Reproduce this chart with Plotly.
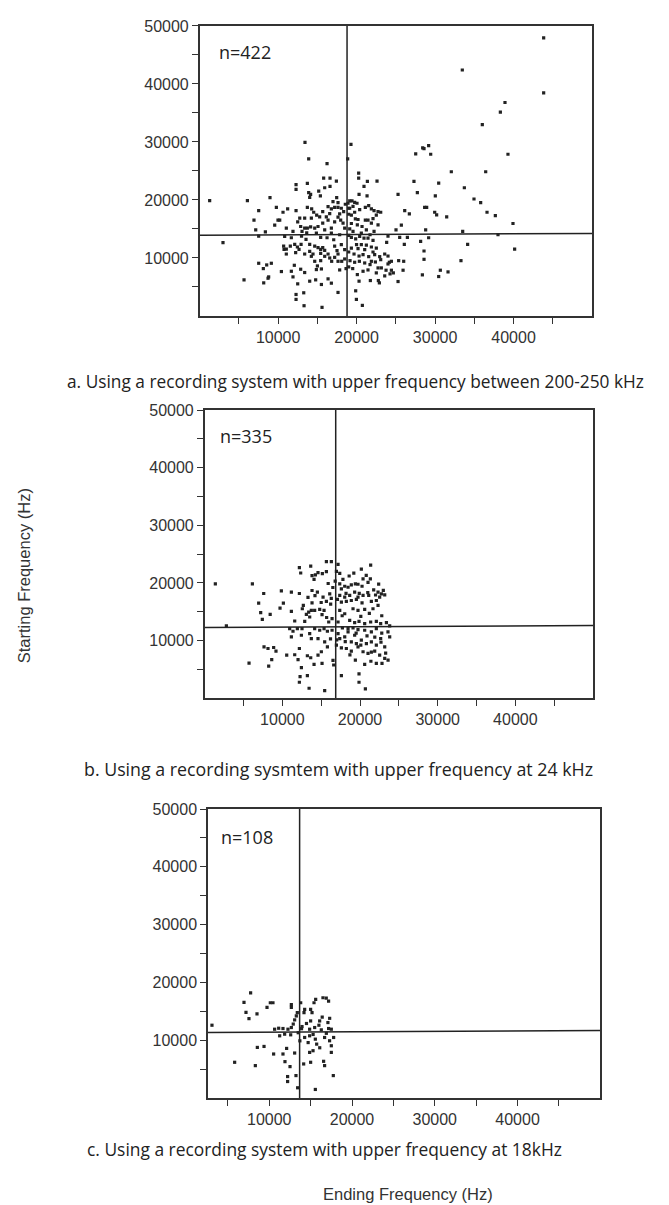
import plotly.graph_objects as go

# ---------------- data (Hz) ----------------
a_end = [43840,43840,33470,36020,38910,38320,39290,36450,32070,33730,34960,35810,36620,37680,39930,38020,33520,34150,40140,33300,
         31650,30670,30460,30460,30030,29950,30200,31480,27530,28420,28590,29180,29440,27310,27740,25280,26130,26720,28670,28930,
         25700,25020,25490,26470,26080,28800,29180,28160,28590,28590,28380,26000,25360,25920,25280,24000,23830,24000,24170,24430,
         24680,24260,23750,23580,22900,22770,22600,21370,20940,20260,20260,20310,21330,19280,18860,19880,19970,20730,17630,20310,
         21750,1270,2970,5650,6080,7520,6920,7140,7520,8370,7520,13420,13890,16230,15800,16610,17420,16610,15930,15170,
         13720,12280,12280,13890,14140,14020,15380,17460,17630,8960,9770,10620,11210,12280,13720,14270,14530,15290,14910,9980,
         10200,9560,11040,12490,12870,13040,13380,13720,14140,13640,15080,16360,16140,16570,16780,17200,17630,18050,18350,17630,
         17970,17200,15930,15420,16230,17080,17840,11680,12980,10700,10750,11040,11550,12110,12450,12230,12660,14020,14660,15080,
         15420,15680,15930,15420,16360,17200,17500,18050,16820,17200,17630,18100,18480,18650,17840,13380,14230,14440,15420,15000,
         14870,15510,12870,13380,14020,14780,15510,16360,16780,11680,11890,12060,12490,13260,12280,12280,13300,15590,10410,11040,
         8110,8540,9130,8790,8160,8710,18900,19120,19410,19750,20050,19540,19120,18990,19330,19750,20390,21110,21540,21880,
         22220,22730,23070,22510,22090,21450,21110,20180,20090,20690,21240,22220,22730,19120,18990,19330,19880,20390,20940,21450,
         22090,20600,21240,21880,22510,19990,19330,18990,19670,20310,20820,21540,22300,22940,23580,19160,19750,20350,21030,21710,
         22390,23070,18990,19500,20820,21450,22510,20090,14660,14870,16780,16780,18480,18270,15680,14230,13380,16990,17840,19840,
         21880,19540,20600,21710,18480,17630,16570,15930,14660,14020,12920,13550,20180,21030,22090,22730,21880,23150,24000,24430,
         19330,18990,18560,16360,15680,12750,11890,10830]
a_start = [47940,38460,42400,32970,36800,35140,27880,24860,24860,22110,20170,19540,17880,17310,15940,14000,14570,12340,11540,9540,
           7600,7890,6800,22910,20690,17880,17430,17080,27940,28970,28860,29370,27880,23200,21260,20970,18170,17600,18740,18740,
           15660,14860,13540,13540,12340,14860,13490,12860,11200,9770,7090,9430,9540,7890,5940,13770,12690,10340,9260,7890,
           7430,7260,7890,6910,5710,6110,23260,23200,22340,24630,23770,20970,20690,29600,27080,4340,2860,1830,4060,6000,
           6110,19890,12630,6230,19890,18170,16510,14860,13770,14510,9090,29940,27080,26280,23770,23770,23260,22340,22110,21540,
           22860,22630,21830,21260,20970,20460,20690,20400,19540,20400,18740,17880,18460,18170,18740,18460,17880,17080,17370,16510,
           16510,15660,15140,16230,15430,14570,15140,15140,15370,14340,15430,16510,17080,17660,18460,18740,18740,18570,18000,17030,
           16510,16230,14860,13540,13490,13140,14000,13490,13770,12060,11490,11540,12060,12340,11890,10910,11490,12340,12060,11770,
           11490,11770,11310,10800,10690,12060,11260,12290,9430,10110,10690,9430,9830,8170,7940,10690,10290,10690,9540,8630,
           8000,8110,8060,7490,6000,6230,5430,6400,5660,7710,6740,8740,5540,4000,3710,2860,1770,1490,7660,10690,
           8170,8800,9090,6740,5710,6510,19430,19830,19830,19600,19430,18910,18570,17540,17370,17880,18340,18740,19030,18460,
           18170,18000,17880,17370,16800,16510,16510,16630,15710,15430,14860,14570,15710,15030,13890,13540,13310,13710,13430,13430,
           13030,12290,12230,11890,11710,12290,11710,11030,10690,10340,10570,10230,10570,10230,10690,9540,9260,9430,9140,8860,
           9310,9710,8460,8170,7710,7940,7430,7140,15140,14290,14290,15140,15140,16000,16000,16860,16860,19710,17600,16740,
           16000,14570,14290,14000,11430,9430,10000,10290,9430,11140,12340,13200,11600,11430,11030,8290,9430,8290,8970,9430,
           15940,18570,19260,18860,18000,16860,14570,13710]

b_end = [1370,2790,6140,5710,7600,6950,7210,7420,8430,7640,8150,8880,8630,8240,9180,9870,10130,9700,11160,12190,
         11160,11590,10560,11590,12190,12020,12450,12190,12360,13650,13820,14250,14080,14590,15150,15670,16310,17170,17390,16960,
         15670,13820,14510,15240,15670,16100,12700,12570,13090,13390,13730,14160,13520,13820,14810,15370,15110,16220,15970,12880,
         10940,11370,11930,12530,13520,14160,14810,15370,15800,16400,11160,12450,13730,14590,15450,15800,15020,14590,14080,15110,
         16520,16610,13220,13650,12280,12190,13220,13440,15450,17600,19870,19870,20690,17390,17600,18030,18460,18880,19400,19740,
         20260,20390,21030,21330,21370,20170,21760,22320,22750,23180,22530,22100,21460,21120,20390,19740,19310,18670,18030,17390,
         17090,17600,18240,18880,19530,20260,19100,19740,20600,21670,22320,17390,18030,18670,19310,19870,20600,21370,22100,22660,
         22100,21460,20600,19740,19100,18460,17730,17170,17390,18030,18880,19530,20170,20820,21460,22100,22660,23180,23820,23820,
         16960,17600,18240,18880,19740,20390,21030,21890,22530,23180,23610,22830,22100,20600,21460,18460,19310,17170,16500,16800,
         15900,17800,18600,19200,20800,22400,23000,22000,21000,19900,18200,16300,15000,14200,13300,15700,16400,17700,20100,21200,
         22800,23400,23600,22800,21900,20900,19500,18100,17000,16200,18700,19400,20100,22700,23300,21400]
b_start = [19830,12530,19830,6090,18160,16490,14830,13680,14540,8910,8620,8790,6670,5570,8160,18620,16490,15630,18390,18160,
           15060,13390,7470,7530,8620,6670,5290,22640,21720,22930,21260,21380,20630,21780,21610,23680,23680,23220,21670,22010,
           21950,18680,18390,17530,16780,18100,16090,15520,14540,14940,15230,15230,14080,16550,15400,15230,14480,16320,13220,13330,
           12070,11610,12070,12070,11210,12070,11780,12070,11610,11780,10630,10920,10340,10340,9770,8910,8050,7470,5860,6030,
           6550,5750,7360,7010,3740,2760,3910,1720,1320,3910,4200,2760,1610,19830,18970,19420,19250,19650,19830,19770,
           19420,20690,20110,20690,23100,22410,18790,18390,18100,17930,17530,16950,16780,17820,17820,17530,18390,17820,17530,17820,
           17130,16670,16780,16950,17130,16550,15520,15230,15400,15520,16090,15230,14650,13510,13100,13330,12930,13220,13330,12930,
           12070,11490,11780,11900,12180,12070,12180,11210,10340,10630,9770,9480,10060,9480,9770,9200,10340,8910,10630,12530,
           9200,8740,8620,8160,8910,8050,7760,8160,7470,6900,6610,6030,6030,5860,7990,11490,10920,13220,19200,20300,
           19900,20600,21200,21700,21300,19800,18700,17900,18300,18200,18200,17300,16600,17800,17500,14000,13800,14300,14200,14700,
           14300,13100,11500,11300,10600,10800,11300,9800,10100,10300,7500,6600,9200,9700,7800,6400]

c_end = [3080,7750,6950,7190,7550,8520,9730,10130,10450,12670,12670,13800,13390,13270,13070,14280,14200,15000,15170,15410,
         15610,16490,16890,17170,16090,17090,15000,13960,14880,15490,16290,17170,17500,10650,11140,11660,12260,12670,11260,11860,
         12590,14280,14880,15570,16690,17290,17780,17500,17500,15730,14880,15290,8560,9370,10530,11660,12100,13070,5820,8320,
         11900,12510,14160,15000,16570,16690,12220,12220,13230,13430,15570,17740,13900,14500,16000,16900,15300,13500,17300,16400,
         14700,16100,13700,12900]
c_start = [12600,18210,16550,14830,13740,14550,15690,16490,16490,16150,15690,16490,14780,14200,13520,15350,14780,15350,14780,16490,
           17070,17350,17300,16780,13340,13060,13340,12370,11910,12200,11800,12030,11910,11910,12080,12030,11910,12200,10770,11050,
           10940,10480,10770,10190,10480,9910,10480,9050,7900,9330,7900,8190,8760,8930,7620,7620,8590,7790,6190,5610,
           6300,5440,5900,6190,6360,5610,3720,2860,3890,1780,1490,3890,12000,12900,12600,11200,11000,11300,13800,14000,
           9600,8700,9900,12800]

# summary lines: mean ending frequency and linear fit of starting on ending frequency
mean_end = [18780, 16870, 13670]
fit_intercept = [13900, 12240, 11320]
fit_slope = [0.0068, 0.0070, 0.0072]
n_labels = ["n=422", "n=335", "n=108"]
captions = ["a. Using a recording system with upper frequency between 200-250 kHz",
            "b. Using a recording sysmtem with upper frequency at 24 kHz",
            "c. Using a recording system with upper frequency at 18kHz"]
x_ranges = [[0, 50000], [0, 50000], [2600, 50000]]
y_range = [0, 50000]
x_tickvals = [5000, 10000, 15000, 20000, 25000, 30000, 35000, 40000, 45000]
x_ticktext = ["", "10000", "", "20000", "", "30000", "", "40000", ""]
y_tickvals = [5000, 10000, 15000, 20000, 25000, 30000, 35000, 40000, 45000, 50000]
y_ticktext = ["", "10000", "", "20000", "", "30000", "", "40000", "", "50000"]

# ---------------- layout geometry ----------------
W, H = 669, 1205
x_doms = [[191.7 / W, 584 / W], [196.7 / W, 585 / W], [200 / W, 592.3 / W]]
y_doms = [[1 - 302 / H, 1 - 10 / H], [1 - 686.7 / H, 1 - 396.7 / H], [1 - 1089.3 / H, 1 - 798.3 / H]]
n_pos = [(209, 36), (210, 422.7), (211, 826.7)]
cap_pos = [(57, 368), (74, 758), (77, 1141)]
cap_size = [17.3, 17.8, 17.4]

INK = "#222222"
fig = go.Figure()
data = [(a_end, a_start), (b_end, b_start), (c_end, c_start)]
for i, (xs, ys) in enumerate(data):
    sfx = "" if i == 0 else str(i + 1)
    fig.add_trace(go.Scatter(x=xs, y=ys, mode="markers", xaxis="x" + sfx, yaxis="y" + sfx,
                             marker=dict(symbol="square", size=3.2, color=INK, line=dict(width=0)),
                             showlegend=False, hoverinfo="x+y"))
    xr = x_ranges[i]
    # vertical mean line
    fig.add_trace(go.Scatter(x=[mean_end[i], mean_end[i]], y=y_range, mode="lines",
                             xaxis="x" + sfx, yaxis="y" + sfx, line=dict(color=INK, width=1.5),
                             showlegend=False, hoverinfo="skip"))
    # regression line
    fx = [xr[0], xr[1]]
    fy = [fit_intercept[i] + fit_slope[i] * v for v in fx]
    fig.add_trace(go.Scatter(x=fx, y=fy, mode="lines", xaxis="x" + sfx, yaxis="y" + sfx,
                             line=dict(color=INK, width=1.5), showlegend=False, hoverinfo="skip"))

    axis_common = dict(showline=True, mirror=True, linecolor="#333333", linewidth=1.5,
                       showgrid=False, zeroline=False, ticks="outside", ticklen=6, tickwidth=1.2,
                       tickcolor="#333333", tickfont=dict(family="Liberation Sans, Arial", size=16, color="#333333"))
    fig.update_layout(**{
        "xaxis" + sfx: dict(domain=x_doms[i], range=xr, anchor="y" + sfx, tickmode="array",
                            tickvals=x_tickvals, ticktext=x_ticktext, **axis_common),
        "yaxis" + sfx: dict(domain=y_doms[i], range=y_range, anchor="x" + sfx, tickmode="array",
                            tickvals=y_tickvals, ticktext=y_ticktext, **axis_common),
    })
    fig.add_annotation(text=n_labels[i], x=n_pos[i][0] / W, y=1 - n_pos[i][1] / H, xref="paper", yref="paper",
                       xanchor="left", yanchor="middle", showarrow=False,
                       font=dict(family="Open Sans", size=18, color=INK))
    fig.add_annotation(text=captions[i], x=cap_pos[i][0] / W, y=1 - cap_pos[i][1] / H, xref="paper", yref="paper",
                       xanchor="left", yanchor="middle", showarrow=False,
                       font=dict(family="Open Sans", size=cap_size[i], color=INK))

fig.add_annotation(text="Ending Frequency (Hz)", x=400 / W, y=1 - 1186 / H, xref="paper", yref="paper",
                   xanchor="center", yanchor="middle", showarrow=False,
                   font=dict(family="Liberation Sans, Arial", size=16.5, color="#333333"))
fig.add_annotation(text="Starting Frequency (Hz)", x=16 / W, y=1 - 564 / H, xref="paper", yref="paper",
                   xanchor="center", yanchor="middle", showarrow=False, textangle=-90,
                   font=dict(family="Liberation Sans, Arial", size=16.5, color="#333333"))

fig.update_layout(width=W, height=H, margin=dict(l=0, r=0, t=0, b=0),
                  paper_bgcolor="white", plot_bgcolor="white", showlegend=False)
fig.write_html("out.html")
